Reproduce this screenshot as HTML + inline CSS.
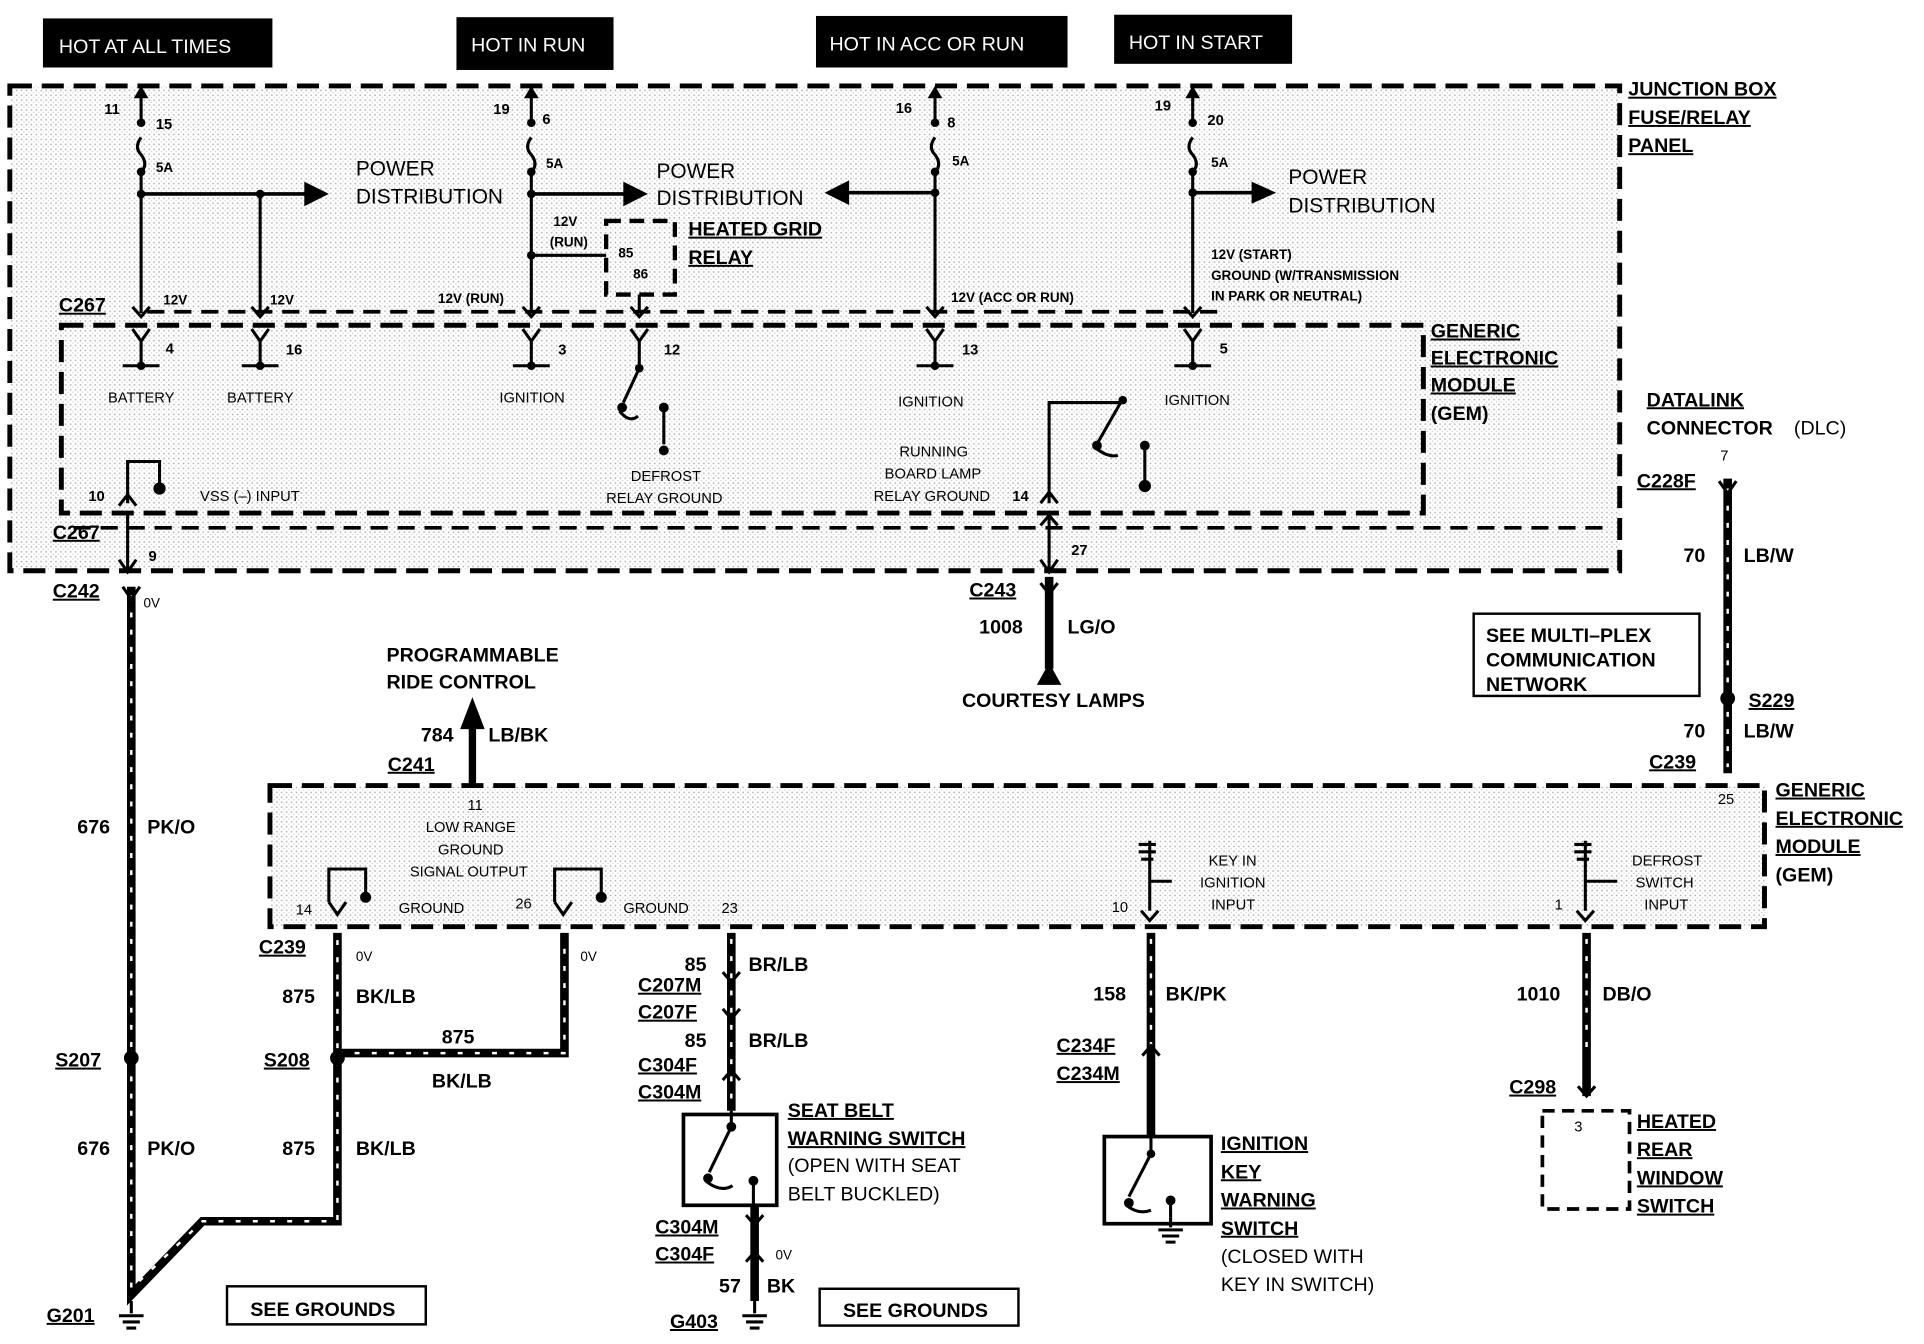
<!DOCTYPE html>
<html><head><meta charset="utf-8"><style>
html,body{margin:0;padding:0;background:#fff;}
svg{display:block;font-family:"Liberation Sans",Arial,sans-serif;}
.b{font-weight:bold;}
</style></head><body>
<svg width="1924" height="1344" viewBox="0 0 1568 1095" preserveAspectRatio="none" xmlns="http://www.w3.org/2000/svg">
<defs>
<pattern id="st" width="4" height="4" patternUnits="userSpaceOnUse"><rect width="4" height="4" fill="#fff"/><rect x="1" y="1" width="1.2" height="1.2" fill="#aaa"/><rect x="3" y="3" width="1" height="1" fill="#ccc"/></pattern>
</defs>
<rect width="1568" height="1095" fill="#fff"/>
<!-- header boxes -->
<g font-size="16" fill="#fff">
<rect x="35" y="15" width="187" height="40" fill="#000"/><text x="48" y="43">HOT AT ALL TIMES</text>
<rect x="372" y="14" width="128" height="43" fill="#000"/><text x="384" y="42">HOT IN RUN</text>
<rect x="665" y="13" width="205" height="42" fill="#000"/><text x="676" y="41">HOT IN ACC OR RUN</text>
<rect x="908" y="12" width="145" height="40" fill="#000"/><text x="920" y="40">HOT IN START</text>
</g>
<!-- junction box -->
<rect x="8" y="70" width="1312" height="395" fill="url(#st)" stroke="#000" stroke-width="4" stroke-dasharray="18,8"/>
<rect x="50" y="265" width="1110" height="153" fill="url(#st)" stroke="#000" stroke-width="4" stroke-dasharray="18,8"/>
<line x1="60" y1="430" x2="1310" y2="430" stroke="#000" stroke-width="3" stroke-dasharray="14,8"/>
<line x1="120" y1="254" x2="1000" y2="254" stroke="#000" stroke-width="3" stroke-dasharray="14,8"/>
<g stroke="#000" stroke-width="2.5" fill="none">
<path d="M115,72 V98 M115,112 q-6,8 0,14 q6,8 0,14 V255"/>
<line x1="115" y1="158" x2="250" y2="158" stroke-width="3"/>
<line x1="212" y1="158" x2="212" y2="255"/>
<path d="M433,72 V98 M433,112 q-6,8 0,14 q6,8 0,14 V255"/>
<line x1="433" y1="158" x2="510" y2="158" stroke-width="3"/>
<line x1="433" y1="208" x2="494" y2="208"/>
<path d="M762,72 V98 M762,112 q-6,8 0,14 q6,8 0,14 V255"/>
<line x1="762" y1="157" x2="690" y2="157" stroke-width="3"/>
<path d="M972,72 V98 M972,112 q-6,8 0,14 q6,8 0,14 V255"/>
<line x1="972" y1="157" x2="1022" y2="157" stroke-width="3"/>
<rect x="494" y="180" width="56" height="60" stroke-width="3.5" stroke-dasharray="12,7"/>
<line x1="521" y1="240" x2="521" y2="255"/>
</g>
<g fill="#000">
<path d="M248,148 L268,158 L248,168z"/>
<path d="M508,148 L528,158 L508,168z"/>
<path d="M692,147 L672,157 L692,167z"/>
<path d="M1020,148 L1040,157 L1020,166z"/>
<path d="M109,80 L115,70 L121,80z"/><path d="M427,80 L433,70 L439,80z"/><path d="M756,80 L762,70 L768,80z"/><path d="M966,80 L972,70 L978,80z"/>
<circle cx="115" cy="100" r="3.5"/><circle cx="115" cy="140" r="3.5"/><circle cx="115" cy="158" r="3.5"/><circle cx="212" cy="158" r="3.5"/>
<circle cx="433" cy="100" r="3.5"/><circle cx="433" cy="140" r="3.5"/><circle cx="433" cy="158" r="3.5"/><circle cx="433" cy="208" r="3.5"/>
<circle cx="762" cy="100" r="3.5"/><circle cx="762" cy="140" r="3.5"/><circle cx="762" cy="157" r="3.5"/>
<circle cx="972" cy="100" r="3.5"/><circle cx="972" cy="140" r="3.5"/><circle cx="972" cy="157" r="3.5"/>
</g>
<g stroke="#000" stroke-width="2.5" fill="none">
<path d="M108,250 L115,258 L122,250"/><path d="M205,250 L212,258 L219,250"/><path d="M426,250 L433,258 L440,250"/><path d="M514,250 L521,258 L528,250"/><path d="M755,250 L762,258 L769,250"/><path d="M965,250 L972,258 L979,250"/>
<path d="M108,268 L115,278 L122,268 M115,278 V298 M100,298 H130"/>
<path d="M205,268 L212,278 L219,268 M212,278 V298 M197,298 H227"/>
<path d="M426,268 L433,278 L440,268 M433,278 V298 M418,298 H448"/>
<path d="M755,268 L762,278 L769,268 M762,278 V298 M747,298 H777"/>
<path d="M965,268 L972,278 L979,268 M972,278 V298 M957,298 H987"/>
<path d="M514,268 L521,278 L528,268 M521,278 V300 L508,328 M505,335 q8,10 15,4 M541,333 V362"/>
<path d="M104,410 V376 H130 V395"/>
<path d="M97,412 L104,403 L111,412"/>
<path d="M855,410 V328 H915 M915,325 L895,360 M893,365 q10,8 18,6 M933,365 V392"/>
<path d="M848,410 L855,401 L862,410"/>
</g>
<g fill="#000"><circle cx="115" cy="298" r="3.5"/><circle cx="212" cy="298" r="3.5"/><circle cx="433" cy="298" r="3.5"/><circle cx="762" cy="298" r="3.5"/><circle cx="972" cy="298" r="3.5"/><circle cx="521" cy="300" r="3.5"/><circle cx="507" cy="332" r="4"/><circle cx="541" cy="332" r="4"/><circle cx="541" cy="367" r="4"/><circle cx="130" cy="398" r="5"/><circle cx="915" cy="326" r="3.5"/><circle cx="894" cy="363" r="4"/><circle cx="933" cy="363" r="4"/><circle cx="933" cy="396" r="5"/></g>
<g font-size="12" class="b">
<text x="85" y="93">11</text><text x="127" y="105">15</text><text x="127" y="140" font-size="11">5A</text>
<text x="402" y="93">19</text><text x="442" y="101">6</text><text x="445" y="137" font-size="11">5A</text>
<text x="730" y="92">16</text><text x="772" y="104">8</text><text x="776" y="135" font-size="11">5A</text>
<text x="941" y="90">19</text><text x="984" y="102">20</text><text x="987" y="136" font-size="11">5A</text>
<text x="133" y="248" font-size="11">12V</text><text x="220" y="248" font-size="11">12V</text><text x="357" y="247" font-size="11">12V (RUN)</text><text x="775" y="246" font-size="11">12V (ACC OR RUN)</text>
<text x="451" y="184" font-size="11">12V</text><text x="448" y="201" font-size="11">(RUN)</text><text x="504" y="210" font-size="11">85</text><text x="516" y="227" font-size="11">86</text>
<text x="987" y="211" font-size="11">12V (START)</text><text x="987" y="228" font-size="11">GROUND (W/TRANSMISSION</text><text x="987" y="245" font-size="11">IN PARK OR NEUTRAL)</text>
<text x="135" y="288">4</text><text x="233" y="289">16</text><text x="455" y="289">3</text><text x="541" y="289">12</text><text x="784" y="289">13</text><text x="994" y="288">5</text>
<text x="72" y="408">10</text><text x="825" y="408">14</text><text x="121" y="457">9</text><text x="873" y="452">27</text>
</g>
<g font-size="17">
<text x="290" y="143">POWER</text><text x="290" y="166">DISTRIBUTION</text>
<text x="535" y="145">POWER</text><text x="535" y="167">DISTRIBUTION</text>
<text x="1050" y="150">POWER</text><text x="1050" y="173">DISTRIBUTION</text>
</g>
<g font-size="12">
<text x="88" y="328">BATTERY</text><text x="185" y="328">BATTERY</text><text x="407" y="328">IGNITION</text><text x="732" y="331">IGNITION</text><text x="949" y="330">IGNITION</text>
<text x="514" y="392">DEFROST</text><text x="494" y="410">RELAY GROUND</text>
<text x="733" y="372">RUNNING</text><text x="721" y="390">BOARD LAMP</text><text x="712" y="408">RELAY GROUND</text>
<text x="163" y="408">VSS (–) INPUT</text>
</g>
<g font-size="16" class="b" text-decoration="underline">
<text x="561" y="192">HEATED GRID</text><text x="561" y="215">RELAY</text>
<text x="1327" y="78">JUNCTION BOX</text><text x="1327" y="101">FUSE/RELAY</text><text x="1327" y="124">PANEL</text>
<text x="1166" y="275">GENERIC</text><text x="1166" y="297">ELECTRONIC</text><text x="1166" y="319">MODULE</text>
<text x="48" y="254">C267</text><text x="43" y="439">C267</text>
</g>
<text x="1166" y="342" font-size="16" class="b">(GEM)</text>
<!-- lower GEM -->
<rect x="220" y="640" width="1218" height="115" fill="url(#st)" stroke="#000" stroke-width="4" stroke-dasharray="18,8"/>
<g fill="none">
<g stroke="#000" stroke-width="7">
<path d="M107,478 V1055 L165,995 H275 V760 M275,858 H460 V760"/>
<path d="M596,760 V905 M615,982 V1060 M938,760 V925 M1293,760 V893 M1408,390 V630 M855,470 V545"/>
</g>
<g stroke="#fff" stroke-width="2" stroke-dasharray="4,10">
<path d="M107,485 V1050 L165,995 H275 V765 M275,858 H460 V765"/>
<path d="M596,765 V900 M938,765 V860 M1293,765 V860 M1408,398 V625"/>
</g>
</g>
<g stroke="#000" stroke-width="2.5" fill="none">
<line x1="104" y1="418" x2="104" y2="465"/><path d="M97,456 L104,466 L111,456"/>
<line x1="855" y1="418" x2="855" y2="465"/><path d="M848,428 L855,420 L862,428 M848,456 L855,466 L862,456"/>
<path d="M100,478 L107,488 L114,478"/><path d="M848,475 L855,484 L862,475"/>
<line x1="385" y1="592" x2="385" y2="640" stroke-width="6"/>
<path d="M1401,392 L1408,402 L1415,392"/>
<path d="M268,735 V708 H298 V728 M452,735 V708 H490 V728"/>
<path d="M589,792 L596,800 L603,792 M589,822 L596,830 L603,822 M589,880 L596,872 L603,880 M931,860 L938,852 L945,860 M1286,885 L1293,893 L1300,885"/>
<path d="M608,990 L615,998 L622,990 M608,1028 L615,1020 L622,1028"/>
<rect x="557" y="908" width="76" height="74" stroke-width="3"/>
<rect x="900" y="926" width="87" height="71" stroke-width="3"/>
<rect x="1257" y="905" width="71" height="80" stroke-width="3" stroke-dasharray="10,6"/>
<path d="M596,905 V918 L578,955 M575,962 q12,10 22,4 M614,962 V982"/>
<path d="M938,925 V940 L920,975 M918,982 q10,8 20,4 M954,980 V992"/>
<path d="M937,685 V742 M930,742 L937,750 L944,742 M937,718 H955 M928,688 h14 M928,694 h14 M930,700 h10"/>
<path d="M1292,685 V742 M1285,742 L1292,750 L1299,742 M1292,718 H1318 M1283,688 h14 M1283,694 h14 M1285,700 h10"/>
<path d="M268,735 L275,745 L282,735 M452,735 L459,745 L466,735"/>
<rect x="1201" y="500" width="184" height="67" stroke-width="2"/>
<rect x="185" y="1048" width="162" height="31" stroke-width="2"/>
<rect x="668" y="1050" width="162" height="30" stroke-width="2"/>
</g>
<g fill="#000">
<path d="M375,594 L385,568 L395,594z"/><path d="M845,558 L855,540 L865,558z"/>
<circle cx="107" cy="862" r="6"/><circle cx="275" cy="862" r="6"/><circle cx="1408" cy="569" r="6"/>
<circle cx="298" cy="731" r="4.5"/><circle cx="490" cy="731" r="4.5"/><circle cx="596" cy="918" r="4"/><circle cx="577" cy="960" r="4"/><circle cx="614" cy="962" r="4"/><circle cx="938" cy="940" r="3.5"/><circle cx="920" cy="980" r="4"/><circle cx="954" cy="978" r="4"/>
</g>
<g stroke="#000" stroke-width="2.5">
<path d="M107,1060 V1070 M97,1072 h20 M100,1077 h14 M103,1082 h8"/>
<path d="M615,1060 V1070 M605,1072 h20 M608,1077 h14 M611,1082 h8"/>
<path d="M954,992 V1000 M944,1002 h20 M947,1007 h14 M950,1012 h8"/>
</g>
<g font-size="16" class="b">
<text x="63" y="679">676</text><text x="120" y="679">PK/O</text>
<text x="63" y="941">676</text><text x="120" y="941">PK/O</text>
<text x="230" y="817">875</text><text x="290" y="817">BK/LB</text>
<text x="360" y="850">875</text><text x="352" y="886">BK/LB</text>
<text x="230" y="941">875</text><text x="290" y="941">BK/LB</text>
<text x="798" y="516">1008</text><text x="870" y="516">LG/O</text>
<text x="784" y="576">COURTESY LAMPS</text>
<text x="315" y="539">PROGRAMMABLE</text><text x="315" y="561">RIDE CONTROL</text>
<text x="343" y="604">784</text><text x="398" y="604">LB/BK</text>
<text x="558" y="791">85</text><text x="610" y="791">BR/LB</text>
<text x="558" y="853">85</text><text x="610" y="853">BR/LB</text>
<text x="891" y="815">158</text><text x="950" y="815">BK/PK</text>
<text x="1236" y="815">1010</text><text x="1306" y="815">DB/O</text>
<text x="1372" y="458">70</text><text x="1421" y="458">LB/W</text>
<text x="1372" y="601">70</text><text x="1421" y="601">LB/W</text>
<text x="586" y="1053">57</text><text x="625" y="1053">BK</text>
<text x="1211" y="523">SEE MULTI–PLEX</text><text x="1211" y="543">COMMUNICATION</text><text x="1211" y="563">NETWORK</text>
<text x="204" y="1072">SEE GROUNDS</text><text x="687" y="1073">SEE GROUNDS</text>
<text x="1447" y="718">(GEM)</text>
<text x="1342" y="354">CONNECTOR</text><text x="1462" y="354" font-weight="normal">(DLC)</text>
</g>
<g font-size="16" class="b" text-decoration="underline">
<text x="43" y="487">C242</text><text x="790" y="486">C243</text><text x="316" y="628">C241</text>
<text x="1334" y="397">C228F</text><text x="1342" y="331">DATALINK</text>
<text x="1425" y="576">S229</text><text x="1344" y="626">C239</text>
<text x="1447" y="649">GENERIC</text><text x="1447" y="672">ELECTRONIC</text><text x="1447" y="695">MODULE</text>
<text x="211" y="777">C239</text><text x="45" y="869">S207</text><text x="215" y="869">S208</text>
<text x="520" y="808">C207M</text><text x="520" y="830">C207F</text><text x="520" y="873">C304F</text><text x="520" y="895">C304M</text>
<text x="534" y="1005">C304M</text><text x="534" y="1027">C304F</text><text x="546" y="1082">G403</text><text x="38" y="1077">G201</text>
<text x="861" y="857">C234F</text><text x="861" y="880">C234M</text>
<text x="1230" y="891">C298</text>
<text x="642" y="910">SEAT BELT</text><text x="642" y="933">WARNING SWITCH</text>
<text x="995" y="937">IGNITION</text><text x="995" y="960">KEY</text><text x="995" y="983">WARNING</text><text x="995" y="1006">SWITCH</text>
<text x="1334" y="919">HEATED</text><text x="1334" y="942">REAR</text><text x="1334" y="965">WINDOW</text><text x="1334" y="988">SWITCH</text>
</g>
<g font-size="16">
<text x="642" y="955">(OPEN WITH SEAT</text><text x="642" y="978">BELT BUCKLED)</text>
<text x="995" y="1029">(CLOSED WITH</text><text x="995" y="1052">KEY IN SWITCH)</text>
</g>
<g font-size="12">
<text x="117" y="495" font-size="11">0V</text><text x="290" y="783" font-size="11">0V</text><text x="473" y="783" font-size="11">0V</text><text x="632" y="1026" font-size="11">0V</text>
<text x="1402" y="375">7</text><text x="1400" y="655">25</text><text x="381" y="660">11</text>
<text x="347" y="678">LOW RANGE</text><text x="357" y="696">GROUND</text><text x="334" y="714">SIGNAL OUTPUT</text>
<text x="241" y="745">14</text><text x="325" y="744">GROUND</text><text x="420" y="740">26</text><text x="508" y="744">GROUND</text><text x="588" y="744">23</text>
<text x="906" y="743">10</text><text x="985" y="705">KEY IN</text><text x="978" y="723">IGNITION</text><text x="987" y="741">INPUT</text>
<text x="1267" y="741">1</text><text x="1330" y="705">DEFROST</text><text x="1333" y="723">SWITCH</text><text x="1340" y="741">INPUT</text>
<text x="1283" y="922">3</text>
</g>
</svg>
</body></html>
